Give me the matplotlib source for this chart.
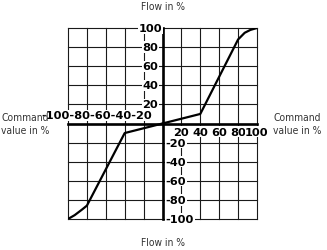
import matplotlib
matplotlib.use("Agg")
import matplotlib.pyplot as plt

# grid / tick values (percent)
ticks = [-100, -80, -60, -40, -20, 0, 20, 40, 60, 80, 100]
left_xlabels = ["-100", "-80", "-60", "-40", "-20"]
right_xlabels = ["20", "40", "60", "80", "100"]
top_ylabels = ["100", "80", "60", "40", "20"]
top_yvals = [100, 80, 60, 40, 20]
bottom_ylabels = ["-20", "-40", "-60", "-80", "-100"]
bottom_yvals = [-20, -40, -60, -80, -100]
right_xvals = [20, 40, 60, 80, 100]

# flow characteristic
cmd_pos = [0, 40, 80, 87, 93, 100]
flow_pos = [0, 10, 88, 95, 98, 100]
cmd_neg = [-100, -93, -85, -80, -40, 0]
flow_neg = [-100, -96, -90, -86, -10, 0]

W, H = 327, 251
fig = plt.figure(figsize=(W / 100, H / 100), dpi=100)
ax = fig.add_axes([68 / W, (H - 220) / H, 189 / W, 191 / H])
ax.set_xlim(-100, 100)
ax.set_ylim(-100, 100)
ax.axis("off")

grid_kw = dict(color="#1a1a1a", lw=0.8, clip_on=False, zorder=1)
for v in ticks:
    ax.axvline(v, **grid_kw)
    ax.axhline(v, **grid_kw)

# main axes
ax.axvline(0, color="black", lw=1.9, clip_on=False, zorder=2)
ax.axhline(0, color="black", lw=1.9, clip_on=False, zorder=2)

# curve
ax.plot(cmd_pos, flow_pos, color="black", lw=1.6, zorder=3,
        solid_joinstyle="round", solid_capstyle="round")
ax.plot(cmd_neg, flow_neg, color="black", lw=1.6, zorder=3,
        solid_joinstyle="round", solid_capstyle="round")

tick_kw = dict(fontsize=8.2, fontweight="bold", color="black", zorder=4,
               bbox=dict(fc="white", ec="none", pad=0.5))

# left x labels are packed together in the row above the axis
ax.text(-11, 8.5, "".join(left_xlabels), ha="right", va="center", **tick_kw)
for v, lab in zip(right_xvals, right_xlabels):
    ax.text(v, -8.5, lab, ha="center", va="center", **tick_kw)
for v, lab in zip(top_yvals, top_ylabels):
    ax.text(-13, v, lab, ha="center", va="center", **tick_kw)
for v, lab in zip(bottom_yvals, bottom_ylabels):
    ax.text(3.5, v, lab, ha="left", va="center", **tick_kw)

lab_kw = dict(fontsize=7.4, color="#333333", fontstretch="condensed")
fig.text(163 / W, 1 - 7 / H, "Flow in %", ha="center", va="center", **lab_kw)
fig.text(163 / W, 1 - 243 / H, "Flow in %", ha="center", va="center", **lab_kw)
fig.text(1 / W, 1 - 124.5 / H, "Command\nvalue in %", ha="left", va="center",
         linespacing=1.35, **lab_kw)
fig.text(273 / W, 1 - 124.5 / H, "Command\nvalue in %", ha="left", va="center",
         linespacing=1.35, **lab_kw)

fig.savefig("out.png", dpi=100)
